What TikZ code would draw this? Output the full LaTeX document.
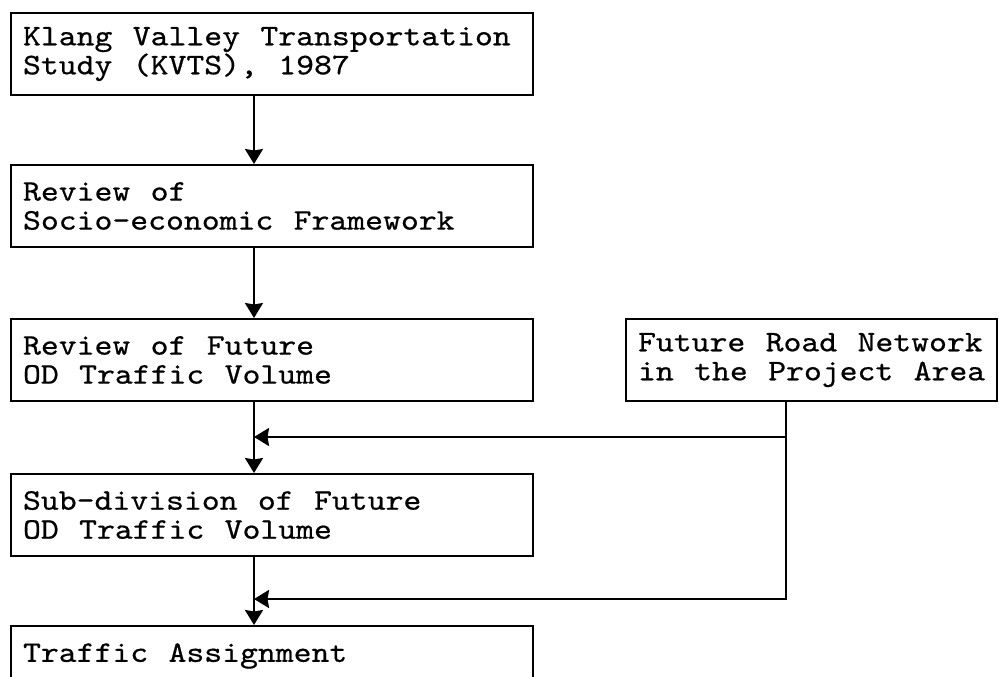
\documentclass[tikz,border=0pt]{standalone}
\usepackage{fontspec}
\usetikzlibrary{arrows.meta,positioning}
% typewriter face, widened to a Courier-like pitch
\newfontfamily\boxfont{lmmono10-regular.otf}[FakeStretch=1.14,FakeBold=0.6,WordSpace=1.14]

\begin{document}
\begin{tikzpicture}
	[x=0.02cm,y=-0.02cm,
	box/.style={draw,line width=1.2pt,anchor=north west,inner xsep=0.24cm,
		inner ysep=0pt,align=left,minimum height=1.64cm,
		font=\boxfont\fontsize{17}{16.5}\selectfont,
		execute at begin node={\spaceskip=0pt\xspaceskip=0pt}},
	wide/.style={box,text width=9.96cm},
	flow/.style={-{Stealth[length=0.3cm,width=0.36cm,inset=0.03cm]},line width=1.3pt}]
	\clip (0,0) rectangle (1000,676);
	\node[wide] (kvts) at (10,12) {Klang Valley Transportation\\Study (KVTS), 1987};
	\node[wide] (socio) at (10,164) {Review of\\Socio-economic Framework};
	\node[wide] (odvol) at (10,318) {Review of Future\\OD Traffic Volume};
	\node[box,minimum width=7.38cm] (road) at (625,318) {Future Road Network\\in the Project Area};
	\node[wide] (subdiv) at (10,473) {Sub-division of Future\\OD Traffic Volume};
	\node[wide] (assign) at (10,625) {Traffic Assignment\\\mbox{}};
	
	\coordinate (spine) at (254,0);
	\coordinate (f1) at (786,437);
	\coordinate (f2) at (786,599);
	
	\path
	\foreach \fromNode/\toNode in {kvts/socio, socio/odvol, odvol/subdiv, subdiv/assign}
	{
		(\fromNode.south -| spine) edge[flow] (\toNode.north -| spine)
	};
	\draw[flow] (road.south -| f2) |- (f2 -| spine);
	\draw[flow] (f1) -- (f1 -| spine);
\end{tikzpicture}
\end{document}
